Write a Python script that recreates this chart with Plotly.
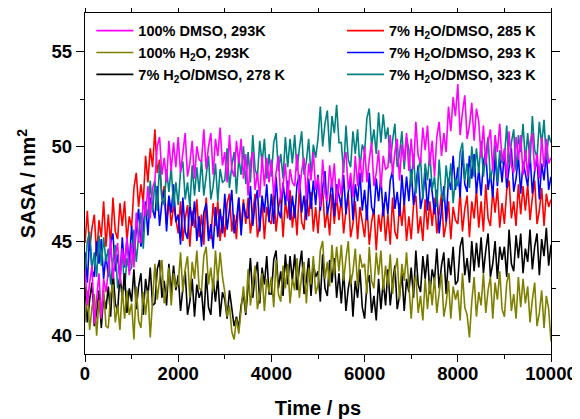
import plotly.graph_objects as go

TIME_PS = list(range(0, 10001, 50))

DMSO_293 = [
    43.5, 41.6, 42.8, 43.7, 40.6, 42.1, 43.3, 40.9, 43.0, 42.3,
    43.4, 45.1, 43.0, 44.2, 44.9, 42.7, 44.6, 43.7, 45.2, 43.2,
    44.9, 43.6, 46.5, 45.0, 44.9, 47.2, 46.3, 47.9, 46.2, 47.8,
    48.2, 50.0, 50.5, 48.5, 49.4, 48.1, 50.3, 48.7, 50.2, 48.9,
    50.5, 48.6, 49.8, 50.7, 48.4, 49.1, 50.3, 48.3, 50.0, 49.3,
    49.2, 50.9, 48.8, 50.0, 50.7, 48.5, 50.4, 49.5, 51.0, 49.0,
    49.7, 48.1, 50.6, 48.8, 48.4, 50.3, 49.1, 50.4, 48.3, 49.6,
    47.4, 49.2, 49.7, 47.7, 48.6, 47.3, 49.5, 47.9, 49.4, 48.1,
    49.3, 47.4, 48.6, 49.5, 47.2, 47.9, 49.1, 47.1, 48.8, 48.1,
    47.9, 49.6, 47.5, 48.7, 49.4, 47.2, 49.1, 48.2, 49.7, 47.7,
    48.4, 46.8, 49.3, 47.5, 47.1, 49.0, 47.8, 49.1, 47.0, 48.3,
    47.4, 49.2, 49.7, 47.7, 48.6, 47.3, 49.5, 47.9, 49.4, 48.1,
    50.0, 48.1, 49.3, 50.2, 47.9, 48.6, 49.8, 47.8, 49.5, 48.8,
    48.9, 50.6, 48.5, 49.7, 50.4, 48.2, 50.1, 49.2, 50.7, 48.7,
    50.4, 48.8, 51.3, 49.5, 49.1, 51.0, 49.8, 51.1, 49.0, 50.3,
    48.4, 50.5, 51.3, 49.5, 50.7, 49.7, 52.1, 50.8, 52.6, 51.6,
    53.3, 50.6, 51.8, 52.7, 50.4, 51.1, 52.3, 50.3, 52.0, 51.3,
    49.4, 51.1, 49.0, 50.2, 50.9, 48.7, 50.6, 49.7, 51.2, 49.2,
    49.9, 48.3, 50.8, 49.0, 48.6, 50.5, 49.3, 50.6, 48.5, 49.8,
    48.4, 50.2, 50.7, 48.7, 49.6, 48.3, 50.5, 48.9, 50.4, 49.1,
    49.4,
]

H2O_293 = [
    40.7, 42.4, 40.3, 41.5, 42.2, 40.0, 41.9, 41.0, 42.5, 40.5,
    40.4, 42.2, 42.7, 40.7, 41.6, 40.3, 42.5, 40.9, 42.4, 41.1,
    41.7, 39.8, 42.6, 40.8, 40.4, 42.3, 41.1, 42.4, 39.9, 41.6,
    43.8, 41.9, 43.1, 44.0, 41.7, 42.4, 43.6, 41.6, 43.3, 42.6,
    42.7, 44.4, 42.3, 43.5, 44.2, 42.0, 43.9, 43.0, 44.5, 42.5,
    42.4, 44.2, 44.7, 42.7, 43.6, 42.3, 44.5, 42.9, 44.4, 43.1,
    42.3, 41.0, 41.6, 40.2, 39.8, 40.9, 40.1, 41.4, 42.6, 41.2,
    43.5, 41.6, 42.8, 43.7, 41.4, 42.1, 43.3, 41.3, 43.0, 42.3,
    43.1, 41.5, 44.0, 42.2, 41.8, 43.7, 42.5, 43.8, 41.7, 43.0,
    42.4, 44.1, 42.0, 43.2, 43.9, 41.7, 43.6, 42.7, 44.2, 42.2,
    42.7, 44.5, 45.0, 43.0, 43.9, 42.6, 44.8, 43.2, 44.7, 43.4,
    44.8, 42.9, 44.1, 45.0, 42.7, 43.4, 44.6, 42.6, 44.3, 43.6,
    43.8, 42.2, 44.7, 42.9, 42.5, 44.4, 43.2, 44.5, 42.4, 43.7,
    42.6, 44.3, 42.2, 43.4, 44.1, 41.9, 43.8, 42.9, 44.4, 42.4,
    40.9, 42.7, 43.2, 41.2, 42.1, 40.8, 43.0, 41.4, 42.9, 41.6,
    43.1, 41.2, 42.4, 43.3, 41.0, 41.7, 42.9, 40.9, 42.6, 41.9,
    42.4, 40.8, 43.3, 41.5, 41.1, 39.9, 41.8, 43.1, 41.0, 42.3,
    41.6, 43.3, 41.2, 42.4, 43.1, 40.9, 42.8, 41.9, 43.4, 41.4,
    41.0, 42.8, 43.3, 41.3, 42.2, 40.9, 43.1, 41.5, 43.0, 41.7,
    42.6, 40.7, 41.9, 42.8, 40.5, 41.2, 42.4, 40.4, 42.1, 41.4,
    39.7,
]

MIX_278 = [
    42.6, 40.7, 41.9, 42.8, 40.5, 41.2, 42.4, 40.4, 42.1, 41.4,
    42.6, 41.0, 43.5, 41.7, 41.3, 43.2, 42.0, 43.3, 41.2, 42.5,
    41.8, 43.5, 41.4, 42.6, 43.3, 41.1, 43.0, 42.1, 43.6, 41.6,
    41.7, 43.5, 44.0, 42.0, 42.9, 41.6, 43.8, 42.2, 43.7, 42.4,
    43.2, 41.3, 42.5, 43.4, 41.1, 41.8, 43.0, 41.0, 42.7, 42.0,
    42.4, 40.8, 43.3, 41.5, 41.1, 43.0, 41.8, 43.1, 41.0, 42.3,
    41.9, 40.9, 42.4, 41.3, 40.5, 41.0, 40.4, 41.6, 42.2, 41.1,
    42.4, 44.1, 42.0, 43.2, 43.9, 41.7, 43.6, 42.7, 44.2, 42.2,
    42.2, 44.0, 44.5, 42.5, 43.4, 42.1, 44.3, 42.7, 44.2, 42.9,
    44.3, 42.4, 43.6, 44.5, 42.2, 42.9, 44.1, 42.1, 43.8, 43.1,
    43.4, 41.8, 44.3, 42.5, 42.1, 44.0, 42.8, 44.1, 42.0, 43.3,
    41.7, 43.4, 41.3, 42.5, 43.2, 41.0, 42.9, 42.0, 43.5, 41.5,
    40.9, 42.7, 43.2, 41.2, 42.1, 40.8, 43.0, 41.4, 42.9, 41.6,
    43.5, 41.6, 42.8, 43.7, 41.4, 42.1, 43.3, 41.3, 43.0, 42.3,
    43.6, 42.0, 44.5, 42.7, 42.3, 44.2, 43.0, 44.3, 42.2, 43.5,
    42.9, 44.6, 42.5, 43.7, 44.4, 42.2, 44.1, 43.2, 44.7, 42.7,
    42.9, 44.7, 45.2, 43.2, 44.1, 42.8, 45.0, 43.4, 44.9, 43.6,
    45.2, 43.3, 44.5, 45.4, 43.1, 43.8, 45.0, 43.0, 44.7, 44.0,
    44.7, 43.1, 45.6, 43.8, 43.4, 45.3, 44.1, 45.4, 43.3, 44.6,
    43.9, 45.6, 43.5, 44.7, 45.4, 43.2, 45.1, 44.2, 45.7, 43.7,
    44.8,
]

MIX_285 = [
    44.9, 46.6, 44.5, 45.7, 46.4, 44.2, 46.1, 45.2, 47.1, 44.7,
    46.4, 44.8, 47.3, 45.5, 45.1, 47.0, 45.8, 47.1, 45.0, 46.3,
    45.7, 47.8, 48.6, 46.8, 48.0, 47.0, 49.5, 48.1, 49.9, 48.9,
    50.9, 48.6, 49.3, 47.2, 47.9, 45.9, 47.3, 45.8, 46.9, 46.2,
    45.4, 47.1, 45.0, 46.2, 46.9, 44.7, 46.6, 45.7, 47.2, 45.2,
    46.4, 44.8, 47.3, 45.5, 45.1, 47.0, 45.8, 47.1, 45.0, 46.3,
    45.2, 47.0, 47.5, 45.5, 46.4, 45.1, 47.3, 45.7, 47.2, 45.9,
    47.3, 45.4, 46.6, 47.5, 45.2, 45.9, 47.1, 45.1, 46.8, 46.1,
    45.9, 47.6, 45.5, 46.7, 47.4, 45.2, 47.1, 46.2, 47.7, 45.7,
    46.9, 45.3, 47.8, 46.0, 45.6, 47.5, 46.3, 47.6, 45.5, 46.8,
    45.4, 47.2, 47.7, 45.7, 46.6, 45.3, 47.5, 45.9, 47.4, 46.1,
    47.3, 45.4, 46.6, 47.5, 45.2, 45.9, 47.1, 45.1, 46.8, 46.1,
    45.2, 46.9, 44.8, 46.0, 46.7, 44.5, 46.4, 45.5, 47.0, 45.0,
    46.4, 44.8, 47.3, 45.5, 45.1, 47.0, 45.8, 47.1, 45.0, 46.3,
    45.1, 46.9, 47.4, 45.4, 46.3, 45.0, 47.2, 45.6, 47.1, 45.8,
    47.3, 45.4, 46.6, 47.5, 45.2, 45.9, 47.1, 45.1, 46.8, 46.1,
    45.9, 47.6, 45.5, 46.7, 47.4, 45.2, 47.1, 46.2, 47.7, 45.7,
    47.1, 45.5, 48.0, 46.2, 45.8, 47.7, 46.5, 47.8, 45.7, 47.0,
    45.9, 47.7, 48.2, 46.2, 47.1, 45.8, 48.0, 46.4, 47.9, 46.6,
    48.0, 46.1, 47.3, 48.2, 45.9, 46.6, 47.8, 45.8, 47.5, 46.8,
    47.2,
]

MIX_293 = [
    44.4, 42.8, 45.3, 43.5, 43.1, 45.0, 43.8, 45.1, 43.0, 44.3,
    43.1, 44.9, 45.4, 43.4, 44.3, 43.0, 45.2, 43.6, 45.1, 43.8,
    45.8, 44.1, 45.6, 46.7, 44.7, 45.6, 47.1, 45.3, 47.3, 46.8,
    46.2, 47.9, 45.8, 47.0, 47.7, 45.5, 47.4, 46.5, 48.0, 46.0,
    46.4, 44.8, 47.3, 45.5, 45.1, 47.0, 45.8, 47.1, 45.0, 46.3,
    44.7, 46.5, 47.0, 45.0, 45.9, 44.6, 46.8, 45.2, 46.7, 45.4,
    47.5, 45.6, 46.8, 47.7, 45.4, 46.1, 47.3, 45.3, 47.0, 46.3,
    46.2, 47.9, 45.8, 47.0, 47.7, 45.5, 47.4, 46.5, 48.0, 46.0,
    47.5, 45.9, 48.4, 46.6, 46.2, 48.1, 46.9, 48.2, 46.1, 47.4,
    46.2, 48.0, 48.5, 46.5, 47.4, 46.1, 48.3, 46.7, 48.2, 46.9,
    48.5, 46.6, 47.8, 48.7, 46.4, 47.1, 48.3, 46.3, 48.0, 47.3,
    46.8, 48.5, 46.4, 47.6, 48.3, 46.1, 48.0, 47.1, 48.6, 46.6,
    47.7, 46.1, 48.6, 46.8, 46.4, 48.3, 47.1, 48.4, 46.3, 47.6,
    46.4, 48.2, 48.7, 46.7, 47.6, 46.3, 48.5, 46.9, 48.4, 47.1,
    48.8, 46.9, 48.1, 49.0, 46.7, 47.4, 48.6, 46.6, 48.3, 47.6,
    46.4, 47.7, 45.4, 46.8, 47.9, 46.0, 48.3, 47.7, 49.5, 47.7,
    48.9, 47.3, 49.8, 48.0, 47.6, 49.5, 48.3, 49.6, 47.5, 48.8,
    47.4, 49.2, 49.7, 47.7, 48.6, 47.3, 49.5, 47.9, 49.4, 48.1,
    49.7, 47.8, 49.0, 49.9, 47.6, 48.3, 49.5, 47.5, 49.2, 48.5,
    47.9, 49.6, 47.5, 48.7, 49.4, 47.2, 49.1, 48.2, 49.7, 47.7,
    48.4,
]

MIX_323 = [
    43.2, 45.0, 45.5, 43.5, 44.4, 43.1, 45.3, 43.7, 45.2, 43.9,
    44.6, 42.7, 43.9, 44.8, 42.5, 43.2, 44.4, 42.4, 44.1, 43.4,
    43.6, 45.6, 43.9, 45.4, 46.5, 44.6, 46.9, 46.3, 48.2, 46.5,
    48.2, 46.6, 49.1, 47.3, 46.9, 48.8, 47.6, 48.9, 46.8, 48.1,
    46.9, 48.7, 49.2, 47.2, 48.1, 46.8, 49.0, 47.4, 48.9, 47.6,
    49.3, 47.4, 48.6, 49.5, 47.2, 47.9, 49.1, 47.1, 48.8, 48.1,
    48.2, 49.9, 47.8, 49.0, 49.7, 47.5, 49.4, 48.5, 50.0, 48.0,
    49.7, 48.1, 50.6, 48.8, 48.4, 50.3, 49.1, 50.4, 48.3, 49.6,
    48.4, 50.2, 50.7, 48.7, 49.6, 48.3, 50.5, 48.9, 50.4, 49.1,
    50.6, 48.7, 49.9, 50.8, 48.5, 49.2, 50.4, 48.4, 50.1, 49.4,
    50.4, 52.1, 50.0, 51.2, 51.9, 49.7, 51.6, 50.7, 52.2, 50.2,
    50.2, 48.6, 51.1, 49.3, 48.9, 50.8, 49.6, 50.9, 48.8, 50.1,
    49.7, 51.5, 52.0, 50.0, 50.9, 49.6, 51.8, 50.2, 51.7, 50.4,
    51.0, 49.1, 50.3, 51.2, 48.9, 49.6, 50.8, 48.8, 50.5, 49.8,
    47.9, 49.6, 47.5, 48.7, 49.4, 47.2, 49.1, 48.2, 49.7, 47.7,
    48.4, 46.8, 49.3, 47.5, 47.1, 49.0, 47.8, 49.1, 47.0, 48.3,
    47.9, 49.7, 50.2, 48.2, 49.1, 47.8, 50.0, 48.4, 49.9, 48.6,
    50.3, 48.4, 49.6, 50.5, 48.2, 48.9, 50.1, 48.1, 49.8, 49.1,
    49.4, 51.1, 49.0, 50.2, 50.9, 48.7, 50.6, 49.7, 51.2, 49.2,
    50.7, 49.1, 51.6, 49.8, 49.4, 51.3, 50.1, 51.4, 49.3, 50.6,
    50.2,
]

X_TICKS = [0, 2000, 4000, 6000, 8000, 10000]
Y_TICKS = [40, 45, 50, 55]

# (name, data, colour, legend, rank); drawn in this order
SERIES = [
    ("7% H<sub>2</sub>O/DMSO, 285 K", MIX_285, "#ff0000", "legend2", 4),
    ("7% H<sub>2</sub>O/DMSO, 293 K", MIX_293, "#0000ff", "legend2", 5),
    ("7% H<sub>2</sub>O/DMSO, 323 K", MIX_323, "#008080", "legend2", 6),
    ("7% H<sub>2</sub>O/DMSO, 278 K", MIX_278, "#000000", "legend", 3),
    ("100% H<sub>2</sub>O, 293K", H2O_293, "#808000", "legend", 2),
    ("100% DMSO, 293K", DMSO_293, "#ff00ff", "legend", 1),
]

FONT = "Liberation Sans, Arial, sans-serif"

fig = go.Figure()
for name, vals, col, leg, rank in SERIES:
    fig.add_trace(go.Scatter(
        x=TIME_PS, y=vals, mode="lines", name=name,
        line=dict(color=col, width=1.6),
        legend=leg, legendrank=rank, legendgroup=name,
    ))

legend_common = dict(
    bgcolor="rgba(0,0,0,0)", borderwidth=0,
    font=dict(family=FONT, size=14.5, color="black", weight="bold"),
    tracegroupgap=2, itemwidth=37,
    xanchor="left", yanchor="top", traceorder="normal",
)

# The page body adds an 8 px offset, so margins are shifted by that amount.
fig.update_layout(
    width=572, height=411,
    margin=dict(l=77, r=29, t=5, b=65),
    paper_bgcolor="white", plot_bgcolor="white",
    font=dict(family=FONT, color="black"),
    legend=dict(x=0.0136, y=0.995, **legend_common),
    legend2=dict(x=0.5516, y=0.995, **legend_common),
    xaxis=dict(
        range=[0, 10000], tickvals=X_TICKS, ticktext=[str(v) for v in X_TICKS],
        showgrid=False, zeroline=False, automargin=False,
        ticklabeloverflow="allow", ticklabelstandoff=-4,
        showline=True, linecolor="black", linewidth=1.3, mirror="allticks",
        ticks="outside", ticklen=7, tickwidth=1.3, tickcolor="black",
        minor=dict(dtick=1000, ticks="outside", ticklen=4, tickwidth=1.3, tickcolor="black", showgrid=False),
        tickfont=dict(family=FONT, size=18.5, weight="bold"),
        title=dict(text="Time / ps", font=dict(family=FONT, size=20, weight="bold"), standoff=24),
    ),
    yaxis=dict(
        range=[39.03, 57.05], tickvals=Y_TICKS, ticktext=[str(v) for v in Y_TICKS],
        showgrid=False, zeroline=False, automargin=False,
        ticklabeloverflow="allow",
        showline=True, linecolor="black", linewidth=1.3, mirror="allticks",
        ticks="outside", ticklen=8, tickwidth=1.3, tickcolor="black",
        minor=dict(dtick=2.5, tick0=40, ticks="outside", ticklen=4, tickwidth=1.3, tickcolor="black", showgrid=False),
        tickfont=dict(family=FONT, size=18.5, weight="bold"),
        title=dict(text="SASA / nm<sup>2</sup>", font=dict(family=FONT, size=20, weight="bold"), standoff=10),
    ),
)

fig.write_html("out.html")
